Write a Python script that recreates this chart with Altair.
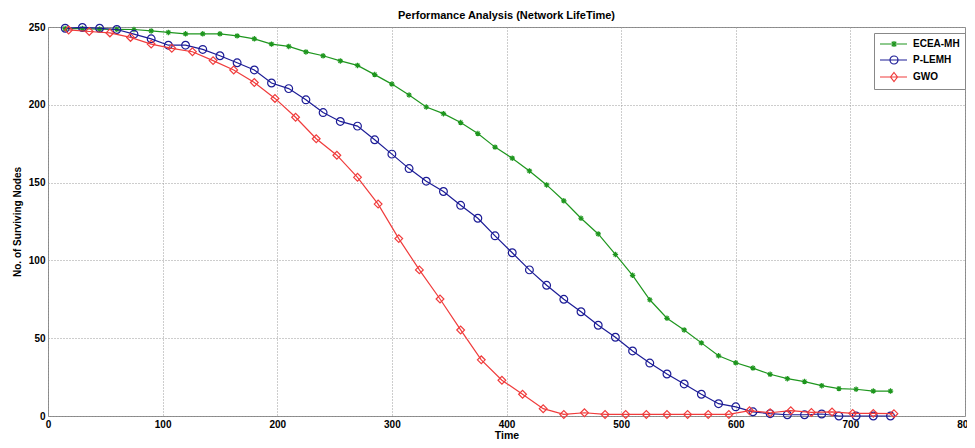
import altair as alt
import pandas as pd

series_names = ["ECEA-MH", "P-LEMH", "GWO"]
series_colors = ["#1e961e", "#1c1c96", "#f03c3c"]

time_ecea = [15, 30, 45, 60, 75, 90, 105, 120, 135, 150, 165, 180, 195, 210, 225, 240, 255,
             270, 285, 300, 315, 330, 345, 360, 375, 390, 405, 420, 435, 450, 465, 480, 495,
             510, 525, 540, 555, 570, 585, 600, 615, 630, 645, 660, 675, 690, 705, 720, 735]
nodes_ecea = [249, 249, 248.6, 248.5, 248.4, 247.5, 246.5, 245.6, 245.6, 245.6, 244.3, 242.4,
              239, 237.5, 234, 231.5, 228.2, 225.3, 219.4, 213.3, 206.3, 198.6, 194.3, 188.6,
              181.5, 172.8, 165.7, 157.5, 148.5, 138.3, 127.1, 117, 103.8, 90.4, 74.7, 62.8,
              55.3, 47, 38.7, 34.2, 30.8, 26.8, 24, 22.1, 19.5, 17.6, 17.2, 16, 16]

time_plemh = [15, 30, 45, 60, 75, 90, 105, 120, 135, 150, 165, 180, 195, 210, 225, 240, 255,
              270, 285, 300, 315, 330, 345, 360, 375, 390, 405, 420, 435, 450, 465, 480, 495,
              510, 525, 540, 555, 570, 585, 600, 615, 630, 645, 660, 675, 690, 705, 720, 735]
nodes_plemh = [249.2, 249.7, 249.2, 248.4, 245.4, 242.4, 238.3, 238.3, 235.6, 231.5, 227, 222.4,
               214, 210.4, 203.2, 195, 189.3, 186.3, 177.5, 168.3, 159, 150.9, 144.3, 135.4,
               127.1, 115.8, 104.9, 93.9, 84, 75, 67, 58.3, 50.6, 41.8, 34, 27, 20.6, 14, 7.9,
               5.9, 2.7, 1.5, 0.8, 0.8, 1.3, 0, 0, 0, 0]

time_gwo = [18, 36, 54, 72, 90, 108, 126, 144, 162, 180, 198, 216, 234, 252, 270, 288, 306,
            324, 342, 360, 378, 396, 414, 432, 450, 468, 486, 504, 522, 540, 558, 576, 594,
            612, 630, 648, 666, 684, 702, 720, 738]
nodes_gwo = [248.1, 247.1, 246.2, 243.3, 239, 236.3, 234.1, 228.4, 222.4, 214.3, 204.1, 192,
             178.2, 167.6, 153.4, 136.2, 114, 93.9, 75.2, 55.3, 36.1, 23, 14, 4.7, 1, 2.1, 1,
             1, 1, 1, 1, 1, 1, 3.4, 2.1, 3.4, 2.3, 2.6, 1.7, 1.7, 1.5]

x_ticks = [0, 100, 200, 300, 400, 500, 600, 700, 800]
y_ticks = [0, 50, 100, 150, 200, 250]

plot_shapes = ["M-1,0H1M0,-1V1M-0.7,-0.7L0.7,0.7M-0.7,0.7L0.7,-0.7", "circle", "diamond"]
plot_sizes = [30, 60, 60]
legend_shapes = [
    "M-1,0H4.4M1.2,0H2.4M1.8,-0.6V0.6M1.35,-0.45L2.25,0.45M1.35,0.45L2.25,-0.45",
    "M-1,0H4.4M2.6,0A0.8,0.8 0 1,1 1.0,0A0.8,0.8 0 1,1 2.6,0",
    "M-1,0H4.4M1.8,-0.9L2.5,0L1.8,0.9L1.1,0Z",
]

frames = []
for name, t, v in [(series_names[0], time_ecea, nodes_ecea),
                   (series_names[1], time_plemh, nodes_plemh),
                   (series_names[2], time_gwo, nodes_gwo)]:
    frames.append(pd.DataFrame({"series": name, "time": t, "nodes": v}))
df = pd.concat(frames, ignore_index=True)

FONT = "Liberation Sans"

x_enc = alt.X("time:Q", scale=alt.Scale(domain=[0, 800], nice=False),
              axis=alt.Axis(values=x_ticks, title="Time", labelPadding=3, titlePadding=1,
                            labelFlush=False, format="d", titleFontSize=10.5))
y_enc = alt.Y("nodes:Q", scale=alt.Scale(domain=[0, 250], nice=False),
              axis=alt.Axis(values=y_ticks, title="No. of Surviving Nodes", labelPadding=3,
                            titlePadding=6, titleFontSize=10, format="d"))

layers = []
for i, name in enumerate(series_names):
    base = alt.Chart(df).transform_filter(alt.datum.series == name)
    layers.append(base.mark_line(color=series_colors[i], strokeWidth=1.2).encode(x=x_enc, y=y_enc))
    layers.append(base.mark_point(shape=plot_shapes[i], color=series_colors[i], filled=False,
                                  size=plot_sizes[i], strokeWidth=1.2, opacity=1)
                  .encode(x=x_enc, y=y_enc))

leg = alt.Legend(title=None, orient="none", legendX=826, legendY=6, symbolSize=100,
                 symbolStrokeWidth=1.2, labelOffset=22, rowPadding=3, padding=5,
                 strokeColor="#888888", fillColor="white", labelFont=FONT,
                 labelFontWeight="bold", labelFontSize=10, labelColor="black",
                 symbolOpacity=1)
legend_layer = alt.Chart(df).transform_filter("false").mark_point(
    filled=False, strokeWidth=1.2, opacity=1).encode(
    x=x_enc, y=y_enc,
    color=alt.Color("series:N", scale=alt.Scale(domain=series_names, range=series_colors), legend=leg),
    shape=alt.Shape("series:N", scale=alt.Scale(domain=series_names, range=legend_shapes), legend=leg),
)
layers.append(legend_layer)

chart = alt.layer(*layers).properties(
    width=917, height=389,
    title=alt.TitleParams("Performance Analysis (Network LifeTime)", font=FONT, fontSize=11,
                          fontWeight="bold", color="black", anchor="middle", offset=0),
    autosize=alt.AutoSizeParams(type="none"),
    padding={"left": 40, "top": 19, "right": 2, "bottom": 24},
    background="white",
).configure_view(stroke="#888888", strokeWidth=1).configure_axis(
    grid=True, gridColor="#9a9a9a", gridDash=[1, 2], gridWidth=1, domain=False, ticks=False,
    labelFont=FONT, labelFontWeight="bold", labelFontSize=10, labelColor="black",
    titleFont=FONT, titleFontWeight="bold", titleFontSize=11, titleColor="black",
)

chart.save("out.html", embed_options={"renderer": "svg", "actions": False})
